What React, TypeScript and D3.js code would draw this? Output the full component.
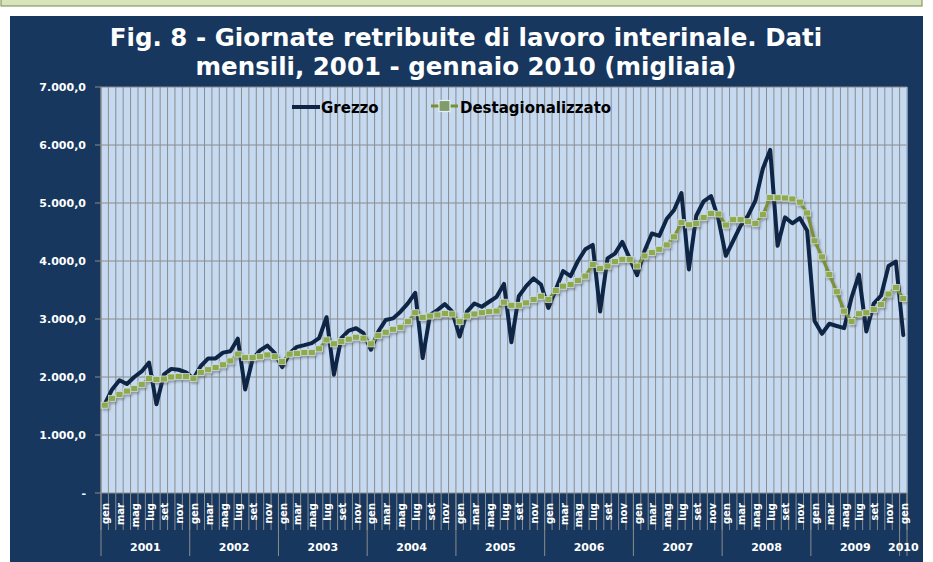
import React from "react";
import * as d3 from "d3";

const titleLines = [
  "Fig. 8 - Giornate retribuite di lavoro interinale. Dati",
  "mensili, 2001 - gennaio 2010 (migliaia)",
];
const years = ["2001", "2002", "2003", "2004", "2005", "2006", "2007", "2008", "2009", "2010"];
const months = ["gen", "feb", "mar", "apr", "mag", "giu", "lug", "ago", "set", "ott", "nov", "dic"];
const yTicks = [0, 1000, 2000, 3000, 4000, 5000, 6000, 7000];
const seriesNames = ["Grezzo", "Destagionalizzato"];

const grezzo = [
  1530, 1785, 1944, 1880, 2000, 2096, 2250, 1530, 2040, 2140, 2125, 2080,
  1970, 2190, 2320, 2320, 2420, 2445, 2660, 1785, 2305, 2460, 2540, 2410,
  2170, 2410, 2520, 2550, 2583, 2670, 3030, 2040, 2670, 2800, 2840, 2755,
  2470, 2783, 2983, 3011, 3126, 3268, 3450, 2326, 3069, 3154, 3257, 3126,
  2697, 3126, 3268, 3211, 3297, 3383, 3605, 2600, 3393, 3566, 3699, 3595,
  3191, 3509, 3827, 3740, 4000, 4202, 4277, 3130, 4046, 4127, 4329, 4046,
  3757, 4173, 4474, 4433, 4723, 4879, 5170, 3855, 4780, 5030, 5120, 4724,
  4090, 4349, 4608, 4781, 5040, 5590, 5916, 4263, 4752, 4650, 4741, 4522,
  2965, 2745, 2918, 2880, 2842, 3370, 3765, 2784, 3265, 3405, 3915, 3990,
  2722,
];

const destag = [
  1514, 1633, 1700, 1757, 1800, 1870, 1972, 1955, 1966, 2000, 2011, 2011,
  1972, 2080, 2125, 2165, 2210, 2277, 2395, 2333, 2333, 2350, 2380, 2350,
  2265, 2395, 2407, 2420, 2423, 2486, 2640, 2572, 2612, 2652, 2686, 2669,
  2572, 2715, 2772, 2823, 2857, 2954, 3108, 3029, 3051, 3069, 3097, 3086,
  2954, 3051, 3086, 3108, 3126, 3137, 3290, 3237, 3237, 3278, 3335, 3393,
  3335, 3491, 3566, 3595, 3665, 3740, 3942, 3873, 3913, 3988, 4029, 4029,
  3913, 4087, 4145, 4202, 4277, 4416, 4665, 4624, 4647, 4751, 4821, 4810,
  4620, 4712, 4712, 4677, 4649, 4798, 5092, 5090, 5086, 5069, 5015, 4828,
  4348, 4071, 3765, 3470, 3136, 2955, 3090, 3108, 3165, 3252, 3430, 3546,
  3352,
];

const W = 933;
const H = 562;
const P = { left: 101, right: 907, top: 87, bottom: 493 };

const NAVY = "#17375e";
const PLOT_BG = "#c5d9f1";
const GRID = "#8c8c8c";
const GREZZO_C = "#0e2545";
const DESTAG_LINE = "#7b8f30";
const MARKER_FILL = "#8faa4e";
const MARKER_STROKE = "#d3e2e8";
const FONT = "'DejaVu Sans', Verdana, sans-serif";

const itLocale = d3.formatLocale({
  decimal: ",",
  thousands: ".",
  grouping: [3],
  currency: ["€", ""],
});
const fmt = itLocale.format(",.1f");

export default function App() {
  const n = grezzo.length;
  const idx = d3.range(n);
  const x = d3.scaleBand<number>().domain(idx).range([P.left, P.right]).padding(0);
  const bw = x.bandwidth();
  const cx = (i: number) => (x(i) as number) + bw / 2;
  const y = d3.scaleLinear().domain([0, 7000]).range([P.bottom, P.top]);

  const line = d3
    .line<number>()
    .x((_, i) => cx(i))
    .y((d) => y(d));

  const boundaries = d3.range(n + 1).map((i) => P.left + i * bw);
  const yearBounds = d3.range(0, n, 12).map((i) => P.left + i * bw).concat([P.right]);

  return (
    <svg
      width={W}
      height={H}
      style={{ position: "absolute", left: 0, top: 0, display: "block" }}
      fontFamily={FONT}
    >
      <defs>
        <filter id="shadow" x="-10%" y="-10%" width="120%" height="130%">
          <feDropShadow dx="1.5" dy="2" stdDeviation="1" floodColor="#4a4a4a" floodOpacity="0.45" />
        </filter>
      </defs>
      <rect x={0} y={0} width={W} height={H} fill="#ffffff" />
      <rect x={1} y={-2} width={921} height={8} fill="#d8e4bc" stroke="#77884a" strokeWidth={1} />
      <rect x={10} y={16} width={913} height={H - 16} fill={NAVY} />

      {titleLines.map((t, i) => (
        <text
          key={i}
          x={466}
          y={46 + i * 28.5}
          textAnchor="middle"
          fill="#ffffff"
          fontWeight="bold"
          fontSize={24.5}
        >
          {t}
        </text>
      ))}

      {/* plot area */}
      <rect x={P.left} y={P.top} width={P.right - P.left} height={P.bottom - P.top} fill={PLOT_BG} />
      {boundaries.map((bx, i) => (
        <line key={"vg" + i} x1={bx} x2={bx} y1={P.top} y2={P.bottom} stroke={GRID} strokeWidth={1} />
      ))}
      {yTicks.map((t) => (
        <line key={"hg" + t} x1={P.left} x2={P.right} y1={y(t)} y2={y(t)} stroke={GRID} strokeWidth={1} />
      ))}
      <line x1={P.right} x2={P.right} y1={P.top} y2={P.bottom} stroke="#a9c0de" strokeWidth={1} />

      {/* y axis */}
      <line x1={P.left} x2={P.left} y1={P.top} y2={P.bottom} stroke={GRID} strokeWidth={1} />
      {yTicks.map((t) => (
        <g key={"yt" + t}>
          <line x1={P.left - 6} x2={P.left} y1={y(t)} y2={y(t)} stroke={GRID} strokeWidth={1} />
          <text
            x={86}
            y={y(t)}
            dy="0.35em"
            textAnchor="end"
            fill="#ffffff"
            fontWeight="bold"
            fontSize={11}
          >
            {t === 0 ? "-" : fmt(t)}
          </text>
        </g>
      ))}

      {/* x axis */}
      {boundaries.map((bx, i) => (
        <line key={"xt" + i} x1={bx} x2={bx} y1={P.bottom} y2={530} stroke={GRID} strokeWidth={1} />
      ))}
      {yearBounds.map((bx, i) => (
        <line key={"yb" + i} x1={bx} x2={bx} y1={P.bottom} y2={556} stroke={GRID} strokeWidth={1} />
      ))}
      {idx
        .filter((i) => i % 2 === 0)
        .map((i) => (
          <text
            key={"ml" + i}
            transform={`translate(${cx(i) + 1},503) rotate(-90)`}
            textAnchor="end"
            dy="0.35em"
            fill="#ffffff"
            fontWeight="bold"
            fontSize={10}
          >
            {months[i % 12]}
          </text>
        ))}
      {years.map((yr, k) => {
        const start = k * 12;
        const end = Math.min(n, start + 12);
        const mid = P.left + ((start + end) / 2) * bw;
        return (
          <text
            key={"yl" + yr}
            x={mid}
            y={551}
            textAnchor="middle"
            fill="#ffffff"
            fontWeight="bold"
            fontSize={11}
          >
            {yr}
          </text>
        );
      })}

      {/* series */}
      <path
        d={line(grezzo) || ""}
        fill="none"
        stroke={GREZZO_C}
        strokeWidth={4}
        strokeLinejoin="round"
        strokeLinecap="round"
      />
      <g filter="url(#shadow)">
        <path d={line(destag) || ""} fill="none" stroke={DESTAG_LINE} strokeWidth={3} strokeLinejoin="round" />
        {destag.map((v, i) => (
          <rect
            key={"mk" + i}
            x={cx(i) - 3.5}
            y={y(v) - 3}
            width={7}
            height={6}
            fill={MARKER_FILL}
            stroke={MARKER_STROKE}
            strokeWidth={0.7}
          />
        ))}
      </g>

      {/* legend */}
      <line x1={292} x2={320} y1={107} y2={107} stroke={GREZZO_C} strokeWidth={4} />
      <text x={321} y={112.5} fontWeight="bold" fontSize={15} fill="#000000">
        {seriesNames[0]}
      </text>
      <line x1={431} x2={458} y1={106} y2={106} stroke={DESTAG_LINE} strokeWidth={3} />
      <rect x={439} y={100.5} width={11} height={11} fill="#7f9c6a" stroke="#e4eef2" strokeWidth={1.2} />
      <text x={460} y={112.5} fontWeight="bold" fontSize={15} fill="#000000">
        {seriesNames[1]}
      </text>
    </svg>
  );
}
